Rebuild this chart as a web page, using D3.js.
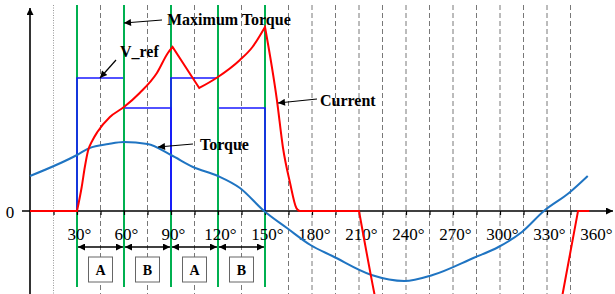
<!DOCTYPE html>
<html>
<head>
<meta charset="utf-8">
<script src="https://cdn.jsdelivr.net/npm/d3@7"></script>
<style>
  body { margin: 0; background: #fff; }
  svg { display: block; }
  text { font-family: "Liberation Serif", "Times New Roman", serif; }
</style>
</head>
<body>
<svg id="chart"></svg>
<script>
// 角度 (deg) / 数值 (任意单位)
var current = [[0,0],[30,0],[33,24],[35,44],[37,60],[40,71],[43,79],[51,94],[60,104],[70,118],[81,138],[88,158],[91,164],
  [108,123],[119,133],[134,151],[142,164],[150,184],[157.6,111],[161.5,63],[166,28],[170,3],[172,0],[210,0],
  [219.6,-81],[226,-130],[334,-130],[340.2,-81],[349.8,0],[357,0]];
// 电流曲线的折点
var currentCorners = [30, 91, 108, 150, 172, 210, 349.8];
var torque = [[0,35],[30,56],[38,63],[50,67],[60,69],[75,67],[90,56],[104,44],[120,35],[134,23],[149.4,0],
  [164,-17],[179,-34],[193,-45],[218,-64],[239,-70],[257,-64],[283,-47],[299,-36],[314,-21],[328,0],[344,18],[356,35]];
var vrefPulses = [
  [[30,0],[30,133],[60,103],[90,0]],
  [[90,0],[90,133],[120,103],[150,0]]
];
var greenBack = [30, 90, 150];
var greenFront = [60, 120];
var dashed = [45, 75, 105, 135, 165, 180, 195, 210, 225, 240, 255, 270, 285, 300, 315, 330, 345];
var labelTicks = [30, 60, 90, 120, 150, 180, 210, 240, 270, 300, 330, 360];
var minorTicks = d3.range(15, 360, 15);
var boxes = [[30,60,"A"],[60,90,"B"],[90,120,"A"],[120,150,"B"]];

var width = 615, height = 294;
var svg = d3.select("#chart").attr("width", width).attr("height", height);

var x = d3.scaleLinear().domain([0, 360]).range([30, 594]);
var y = d3.scaleLinear().domain([-100, 200]).range([311, 11]);
var y0 = y(0);

var defs = svg.append("defs");
defs.append("marker").attr("id", "ah").attr("viewBox", "0 0 10 10").attr("refX", 10).attr("refY", 5)
  .attr("markerWidth", 9).attr("markerHeight", 7).attr("markerUnits", "userSpaceOnUse").attr("orient", "auto-start-reverse")
  .append("path").attr("d", "M0,0L10,5L0,10z").attr("fill", "#000");

//虚线网格
svg.append("line").attr("x1", x(15)).attr("x2", x(15)).attr("y1", 5).attr("y2", height)
  .attr("stroke", "#999").attr("stroke-dasharray", "1,1.5").attr("stroke-width", 1);
svg.append("g").selectAll("line").data(dashed).enter().append("line")
  .attr("x1", d => x(d)).attr("x2", d => x(d)).attr("y1", 5).attr("y2", height)
  .attr("stroke", "#555").attr("stroke-dasharray", "5,3").attr("stroke-width", 0.8);

function greenLines(arr) {
  svg.append("g").selectAll("line").data(arr).enter().append("line")
    .attr("x1", d => x(d)).attr("x2", d => x(d)).attr("y1", 5).attr("y2", 287)
    .attr("stroke", "#00b050").attr("stroke-width", 2);
}
greenLines(greenBack);

//V_ref
var step = d3.line().x(d => x(d[0])).y(d => y(d[1])).curve(d3.curveStepAfter);
svg.append("g").selectAll("path").data(vrefPulses).enter().append("path")
  .attr("d", step).attr("fill", "none").attr("stroke", "#1a1aff").attr("stroke-width", 1.6);

greenLines(greenFront);

//坐标轴
svg.append("line").attr("x1", 22).attr("x2", 613).attr("y1", y0).attr("y2", y0)
  .attr("stroke", "#000").attr("stroke-width", 1.6).attr("marker-end", "url(#ah)");
svg.append("line").attr("x1", x(0)).attr("x2", x(0)).attr("y1", height).attr("y2", 8)
  .attr("stroke", "#000").attr("stroke-width", 1.6).attr("marker-end", "url(#ah)");

var tickAxis = d3.axisBottom(x).tickValues(minorTicks).tickSize(4).tickFormat("");
svg.append("g").attr("transform", "translate(0," + y0 + ")").call(tickAxis)
  .call(g => g.select(".domain").remove())
  .selectAll("line").attr("stroke", "#000").attr("stroke-width", 1.2);

var labelAxis = d3.axisBottom(x).tickValues(labelTicks).tickSize(0).tickPadding(17).tickFormat(d => d + "°");
svg.append("g").attr("transform", "translate(2," + y0 + ")").call(labelAxis)
  .call(g => g.select(".domain").remove())
  .selectAll("text").attr("font-size", 17).attr("fill", "#000")
  .attr("font-family", "Liberation Serif, serif");

svg.append("text").attr("x", 10).attr("y", y0 + 7).attr("text-anchor", "middle")
  .attr("font-size", 17).text("0");

//区间箭头与方框
var yArrow = 247;
svg.append("g").selectAll("line").data(boxes).enter().append("line")
  .attr("x1", d => x(d[0]) + 1).attr("x2", d => x(d[1]) - 1).attr("y1", yArrow).attr("y2", yArrow)
  .attr("stroke", "#000").attr("stroke-width", 1.4)
  .attr("marker-start", "url(#ah)").attr("marker-end", "url(#ah)");
var bx = svg.append("g").selectAll("g").data(boxes).enter().append("g");
bx.append("rect").attr("x", d => x((d[0] + d[1]) / 2) - 12).attr("y", 257).attr("width", 24).attr("height", 25)
  .attr("fill", "#fff").attr("stroke", "#666").attr("stroke-width", 1);
bx.append("text").attr("x", d => x((d[0] + d[1]) / 2)).attr("y", 275).attr("text-anchor", "middle")
  .attr("font-size", 14).attr("font-weight", "bold").text(d => d[2]);

//曲线
var line = d3.line().x(d => x(d[0])).y(d => y(d[1])).curve(d3.curveMonotoneX);
svg.append("path").datum(torque).attr("d", line).attr("fill", "none")
  .attr("stroke", "#1f74c2").attr("stroke-width", 2);

// 按折点分段, 每段单独平滑
var pieces = [], cur = [];
current.forEach(function (p) {
  cur.push(p);
  if (currentCorners.indexOf(p[0]) >= 0 && cur.length > 1) {
    pieces.push(cur);
    cur = [p];
  }
});
if (cur.length > 1) pieces.push(cur);
var pathStr = pieces.map(function (pc, i) {
  var s = line(pc);
  return i === 0 ? s : "L" + s.slice(1);
}).join("");
svg.append("path").attr("d", pathStr).attr("fill", "none")
  .attr("stroke", "#ff0000").attr("stroke-width", 2).attr("stroke-linejoin", "miter");

//注释
var notes = [
  {t: "Maximum Torque", tx: 167, ty: 25, a: [162, 20, 124, 23]},
  {t: "V_ref", tx: 120, ty: 57, a: [116, 60, 100, 78]},
  {t: "Torque", tx: 200, ty: 150, a: [193, 144, 158, 147]},
  {t: "Current", tx: 320, ty: 106, a: [317, 99, 278, 103]}
];
var ng = svg.append("g").selectAll("g").data(notes).enter().append("g");
ng.append("line").attr("x1", d => d.a[0]).attr("y1", d => d.a[1]).attr("x2", d => d.a[2]).attr("y2", d => d.a[3])
  .attr("stroke", "#000").attr("stroke-width", 1.2).attr("marker-end", "url(#ah)");
ng.append("text").attr("x", d => d.tx).attr("y", d => d.ty).attr("font-size", 16).attr("font-weight", "bold")
  .text(d => d.t);
</script>
</body>
</html>
